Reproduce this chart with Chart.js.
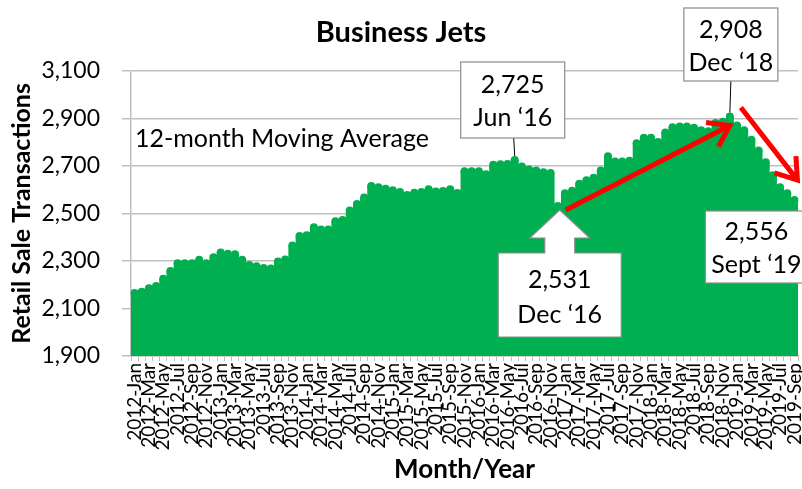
<!DOCTYPE html>
<html>
<head>
<meta charset="utf-8">
<title>Business Jets</title>
<script src="https://cdn.jsdelivr.net/npm/chart.js@4.4.1/dist/chart.umd.min.js"></script>
<style>
  html, body { margin: 0; padding: 0; background: #fff; }
  #wrap { width: 802px; height: 489px; }
</style>
</head>
<body>
<div id="wrap"><canvas id="jetsChart" width="802" height="489"></canvas></div>
<script>
// 12-month moving average of retail sale transactions, one array per year
const years = [2012, 2013, 2014, 2015, 2016, 2017, 2018, 2019];
const monthNames = ['Jan', 'Feb', 'Mar', 'Apr', 'May', 'Jun', 'Jul', 'Aug', 'Sep', 'Oct', 'Nov', 'Dec'];

const sales2012 = [2165, 2170, 2185, 2195, 2225, 2258, 2290, 2290, 2290, 2305, 2290, 2315];
const sales2013 = [2335, 2330, 2328, 2305, 2283, 2278, 2270, 2268, 2298, 2306, 2365, 2405];
const sales2014 = [2408, 2442, 2432, 2432, 2467, 2472, 2512, 2540, 2567, 2615, 2610, 2604];
const sales2015 = [2597, 2590, 2577, 2587, 2590, 2602, 2592, 2594, 2602, 2586, 2677, 2677];
const sales2016 = [2677, 2665, 2705, 2707, 2708, 2725, 2697, 2685, 2680, 2673, 2670, 2531];
const sales2017 = [2585, 2595, 2625, 2640, 2650, 2680, 2740, 2718, 2718, 2722, 2795, 2818];
const sales2018 = [2818, 2800, 2840, 2862, 2866, 2866, 2860, 2850, 2846, 2880, 2886, 2908];
const sales2019 = [2870, 2850, 2810, 2765, 2715, 2660, 2610, 2585, 2556];

const yTicks = [1900, 2100, 2300, 2500, 2700, 2900, 3100];

const values = [].concat(sales2012, sales2013, sales2014, sales2015,
                         sales2016, sales2017, sales2018, sales2019);

const labels = [];
years.forEach(yr => monthNames.forEach(m => {
    if (labels.length < values.length) labels.push(yr + '-' + m);
}));

// callouts: index of the month they point to, and their two lines of text
const peak2016 = { idx: 53, lines: ['2,725', 'Jun \u201816'] };
const low2016 = { idx: 59, lines: ['2,531', 'Dec \u201816'] };
const peak2018 = { idx: 83, lines: ['2,908', 'Dec \u201818'] };
const last2019 = { idx: 92, lines: ['2,556', 'Sept \u201819'] };

const GREEN = '#00b050';
const GRID = '#bfbfbf';
const FONT = 'Lato';

function drawBox(ctx, cx, top, w, h, lines, l1, l2) {
    ctx.fillStyle = '#fff';
    ctx.strokeStyle = '#8c8c8c';
    ctx.lineWidth = 1.2;
    ctx.fillRect(cx - w / 2, top, w, h);
    ctx.strokeRect(cx - w / 2, top, w, h);
    ctx.fillStyle = '#000';
    ctx.font = '25px ' + FONT;
    ctx.textAlign = 'center';
    ctx.textBaseline = 'middle';
    ctx.fillText(lines[0], cx, top + l1);
    ctx.fillText(lines[1], cx, top + l2);
}

function redArrow(ctx, x1, y1, x2, y2) {
    const a = Math.atan2(y2 - y1, x2 - x1);
    const len = 24, spread = 0.6;
    ctx.strokeStyle = '#ff0000';
    ctx.lineWidth = 5;
    ctx.lineCap = 'butt';
    ctx.beginPath();
    ctx.moveTo(x1, y1);
    ctx.lineTo(x2, y2);
    ctx.moveTo(x2 - len * Math.cos(a - spread), y2 - len * Math.sin(a - spread));
    ctx.lineTo(x2, y2);
    ctx.lineTo(x2 - len * Math.cos(a + spread), y2 - len * Math.sin(a + spread));
    ctx.stroke();
}

const calloutPlugin = {
    id: 'callouts',
    afterDatasetsDraw(chart) {
        const ctx = chart.ctx;
        const px = i => chart.scales.x.getPixelForValue(i);
        const py = v => chart.scales.y.getPixelForValue(v);
        ctx.save();

        ctx.fillStyle = '#000';
        ctx.font = '25px ' + FONT;
        ctx.textAlign = 'left';
        ctx.textBaseline = 'middle';
        ctx.fillText('12-month Moving Average', 135, 139);

        // Jun '16 peak
        let cx = px(peak2016.idx);
        ctx.strokeStyle = '#000';
        ctx.lineWidth = 1;
        ctx.beginPath();
        ctx.moveTo(cx - 1, 138);
        ctx.lineTo(cx, py(values[peak2016.idx]) - 4);
        ctx.stroke();
        drawBox(ctx, cx - 2, 62, 104, 76, peak2016.lines, 23, 56);

        // Dec '18 peak
        cx = px(peak2018.idx);
        ctx.strokeStyle = '#000';
        ctx.lineWidth = 1;
        ctx.beginPath();
        ctx.moveTo(cx + 1, 81);
        ctx.lineTo(cx, py(values[peak2018.idx]) - 4);
        ctx.stroke();
        drawBox(ctx, cx + 1, 8, 94, 73, peak2018.lines, 22, 55);

        // red trend arrows
        redArrow(ctx, px(low2016.idx) + 8, py(values[low2016.idx]) + 4,
                 px(peak2018.idx), py(values[peak2018.idx]) + 9);
        redArrow(ctx, px(peak2018.idx) + 11, py(values[peak2018.idx]) - 9,
                 px(last2019.idx) + 3, py(values[last2019.idx]) - 20);

        // Sept '19 label
        drawBox(ctx, px(last2019.idx) - 38, 211, 102, 72, last2019.lines, 21, 54);

        // Dec '16 arrow callout
        cx = px(low2016.idx) + 2;
        const tip = py(values[low2016.idx]) + 4;
        ctx.beginPath();
        ctx.moveTo(cx, tip);
        ctx.lineTo(cx + 30, 238);
        ctx.lineTo(cx + 15, 238);
        ctx.lineTo(cx + 15, 253);
        ctx.lineTo(cx + 61.5, 253);
        ctx.lineTo(cx + 61.5, 337);
        ctx.lineTo(cx - 61.5, 337);
        ctx.lineTo(cx - 61.5, 253);
        ctx.lineTo(cx - 15, 253);
        ctx.lineTo(cx - 15, 238);
        ctx.lineTo(cx - 30, 238);
        ctx.closePath();
        ctx.fillStyle = '#fff';
        ctx.fill();
        ctx.strokeStyle = '#8c8c8c';
        ctx.lineWidth = 1.2;
        ctx.stroke();
        ctx.fillStyle = '#000';
        ctx.font = '25px ' + FONT;
        ctx.textAlign = 'center';
        ctx.fillText(low2016.lines[0], cx, 280);
        ctx.fillText(low2016.lines[1], cx, 315);

        ctx.restore();
    }
};

const canvas = document.getElementById('jetsChart');
const ctx = canvas.getContext('2d');

new Chart(ctx, {
    type: 'bar',
    data: {
        labels: labels,
        datasets: [{
            // round markers on each month
            type: 'line',
            data: values,
            showLine: false,
            pointRadius: 4,
            pointBackgroundColor: GREEN,
            pointBorderWidth: 0,
            order: 1
        }, {
            // stepped fill, hides the seams between the columns
            type: 'line',
            data: values,
            stepped: 'middle',
            fill: 'start',
            backgroundColor: GREEN,
            borderWidth: 0,
            pointRadius: 0,
            order: 2
        }, {
            data: values,
            backgroundColor: GREEN,
            borderWidth: 0,
            barPercentage: 1,
            categoryPercentage: 1,
            order: 3
        }]
    },
    options: {
        responsive: false,
        animation: false,
        devicePixelRatio: 1,
        layout: { padding: 0 },
        plugins: {
            legend: { display: false },
            tooltip: { enabled: false },
            title: {
                display: true,
                text: 'Business Jets',
                color: '#000',
                font: { family: FONT, size: 29, weight: 'bold' },
                padding: { top: 15, bottom: 21 }
            }
        },
        scales: {
            x: {
                grid: { display: true, drawOnChartArea: false, color: GRID, tickLength: 5 },
                border: { color: GRID, width: 1.5 },
                ticks: {
                    autoSkip: false,
                    minRotation: 90,
                    maxRotation: 90,
                    padding: 2,
                    color: '#000',
                    font: { family: FONT, size: 19 },
                    callback: (val, idx) => idx % 2 === 0 ? labels[idx] : ''
                },
                title: {
                    display: true,
                    text: 'Month/Year',
                    color: '#000',
                    font: { family: FONT, size: 26, weight: 'bold' },
                    padding: { top: 4, bottom: 4 }
                },
                afterFit(s) { s.height = 133; s.paddingLeft = 0; s.paddingRight = 0; }
            },
            y: {
                min: yTicks[0],
                max: yTicks[yTicks.length - 1],
                grid: { color: GRID, lineWidth: 1.5, tickLength: 9 },
                border: { color: GRID, width: 1.5 },
                afterBuildTicks(s) { s.ticks = yTicks.map(v => ({ value: v })); },
                ticks: {
                    padding: 22,
                    color: '#000',
                    font: { family: FONT, size: 23 },
                    callback: v => v.toLocaleString('en-US')
                },
                title: {
                    display: true,
                    text: 'Retail Sale Transactions',
                    color: '#000',
                    font: { family: FONT, size: 25, weight: 'bold' },
                    padding: { top: 7, bottom: 0 }
                },
                afterFit(s) { s.width = 131; }
            }
        }
    },
    plugins: [calloutPlugin]
});
</script>
</body>
</html>
